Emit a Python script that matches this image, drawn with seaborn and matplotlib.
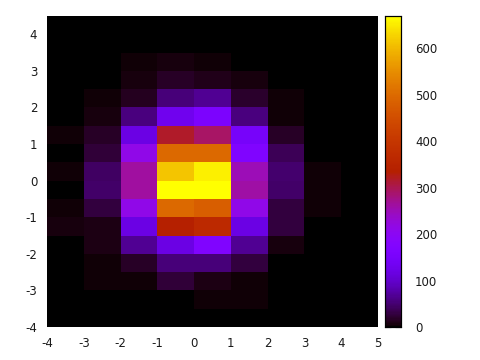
import numpy as np
import pandas as pd
import matplotlib
matplotlib.use("Agg")
import matplotlib.pyplot as plt
import seaborn as sns

x_centers = [-3.5, -2.5, -1.5, -0.5, 0.5, 1.5, 2.5, 3.5, 4.5]
y_centers = [4.25, 3.75, 3.25, 2.75, 2.25, 1.75, 1.25, 0.75, 0.25,
             -0.25, -0.75, -1.25, -1.75, -2.25, -2.75, -3.25, -3.75]
counts = [
    [0, 0, 1, 0, 0, 0, 0, 0, 0],
    [0, 0, 0, 1, 0, 0, 0, 0, 0],
    [0, 0, 3, 7, 3, 2, 0, 0, 0],
    [0, 0, 6, 16, 13, 7, 1, 0, 0],
    [1, 3, 15, 53, 66, 20, 3, 0, 0],
    [1, 6, 56, 129, 158, 56, 4, 0, 0],
    [3, 16, 120, 319, 291, 148, 16, 0, 1],
    [1, 24, 214, 499, 499, 169, 37, 2, 0],
    [3, 42, 264, 613, 655, 251, 48, 3, 0],
    [2, 45, 264, 670, 670, 260, 45, 3, 0],
    [3, 28, 214, 499, 481, 214, 28, 3, 0],
    [6, 10, 120, 335, 364, 120, 28, 2, 0],
    [0, 10, 66, 120, 169, 66, 6, 2, 0],
    [0, 3, 16, 53, 53, 28, 0, 0, 0],
    [0, 3, 3, 24, 10, 4, 0, 0, 0],
    [0, 2, 1, 2, 4, 4, 0, 0, 0],
    [0, 0, 0, 2, 2, 0, 0, 0, 0],
]
x_ticks = [-4, -3, -2, -1, 0, 1, 2, 3, 4, 5]
y_ticks = [-4, -3, -2, -1, 0, 1, 2, 3, 4]
cb_ticks = [0, 100, 200, 300, 400, 500, 600]

rows = []
for yi, yc in enumerate(y_centers):
    for xi, xc in enumerate(x_centers):
        rows.append((xc, yc, counts[yi][xi]))
df = pd.DataFrame(rows, columns=["x", "y", "n"])

sns.set_style("white")
plt.rcParams["font.family"] = ["DejaVu Sans"]
plt.rcParams["axes.unicode_minus"] = False

fig = plt.figure(figsize=(4.8, 3.6), dpi=100)
ax = fig.add_axes([47/480, 1-327/360, (378-47)/480, (327-16)/360])
cax = fig.add_axes([385/480, 1-327/360, 16/480, (327-16)/360])

x_edges = np.arange(-4, 5.01, 1.0)
y_edges = np.arange(-4, 4.51, 0.5)
vmax = max(max(r) for r in counts)

sns.histplot(data=df, x="x", y="y", weights="n", bins=[x_edges, y_edges],
             cmap="gnuplot", vmin=0, vmax=vmax, thresh=None, ax=ax,
             cbar=True, cbar_ax=cax)

ax.set_facecolor("black")
ax.set_xlim(-4, 5)
ax.set_ylim(-4, 4.5)
ax.set_xticks(x_ticks)
ax.set_yticks(y_ticks)
ax.set_xticklabels([str(t) for t in x_ticks])
ax.set_yticklabels([str(t) for t in y_ticks])
ax.set_xlabel("")
ax.set_ylabel("")
ax.tick_params(axis="both", labelsize=8.5, colors="black", length=0, pad=7,
               labelcolor="#1a1a1a")
for s in ax.spines.values():
    s.set_visible(False)

cax.set_yticks(cb_ticks)
cax.set_yticklabels([str(t) for t in cb_ticks])
cax.tick_params(axis="y", direction="in", left=True, right=True, length=4,
                width=0.8, color="black", labelsize=8.5, labelcolor="#1a1a1a",
                pad=10)
for s in cax.spines.values():
    s.set_visible(True)
    s.set_color("black")
    s.set_linewidth(0.8)

fig.savefig("out.png", dpi=100)
